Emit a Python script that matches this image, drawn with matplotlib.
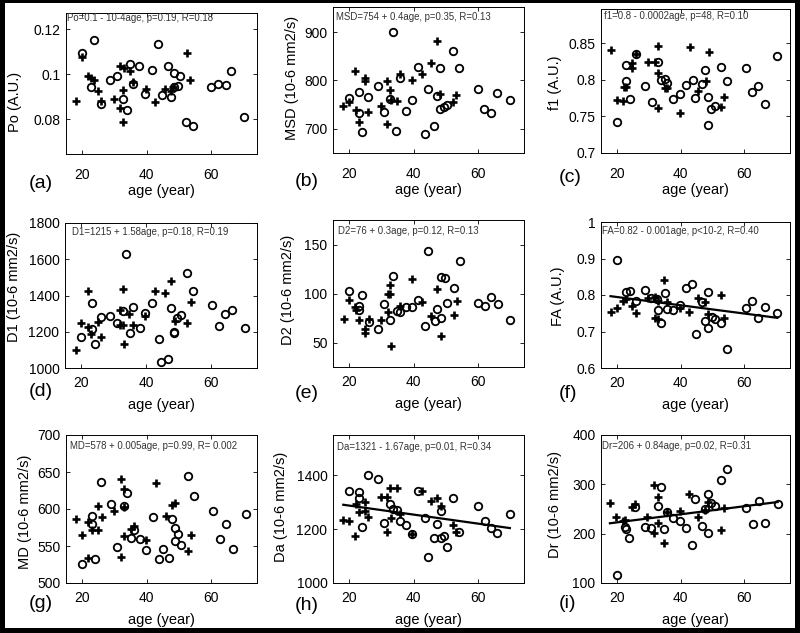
import numpy as np
import matplotlib
matplotlib.use('Agg')
import matplotlib.pyplot as plt
from matplotlib.patches import Rectangle
from matplotlib.ticker import FormatStrFormatter

plt.rcParams['font.family'] = ['Liberation Sans', 'DejaVu Sans']

# ---- data: circles (o) and crosses (+) ----
# (a) Po
po_c_age = [20, 23.75, 22.8, 25.8, 28.6, 30.8, 32.7, 33.75, 34.7, 35.7, 37.7, 39.6, 41.7, 43.6, 44.7,
            46.6, 47.6, 48.4, 48.5, 49.7, 50.5, 52.4, 54.4, 60.2, 62.4, 64.6, 66.25, 70.3]
po_c = [0.1093, 0.115, 0.0945, 0.0868, 0.0972, 0.0991, 0.0892, 0.0842, 0.1044, 0.0957, 0.1038, 0.091,
        0.1019, 0.1135, 0.0907, 0.1038, 0.0898, 0.1007, 0.0942, 0.0948, 0.0993, 0.0787, 0.0772, 0.0944,
        0.0957, 0.0953, 0.1016, 0.0812]
po_p_age = [17.9, 19.9, 21.8, 22.6, 23.6, 24.8, 25.8, 29.7, 31.8, 31.8, 32.8, 32.8, 32.9, 34.7, 35.8,
            39.7, 42.7, 45.6, 47.6, 48.2, 52.5, 53.6]
po_p = [0.0882, 0.1075, 0.0993, 0.0985, 0.0975, 0.0927, 0.0882, 0.0892, 0.1034, 0.0849, 0.093, 0.079,
        0.1027, 0.1016, 0.0967, 0.0933, 0.0877, 0.0936, 0.0927, 0.0942, 0.1093, 0.0975]

# (b) MSD
msd_c_age = [20, 22.9, 23, 24, 25.9, 28.8, 30.7, 32.7, 33.6, 34.6, 35.7, 37.6, 39.5, 41.5, 43.5, 44.4,
             46.5, 47.3, 48.3, 48.3, 49.6, 50.3, 52.3, 54.2, 60.2, 62, 64.1, 66, 70]
msd_c = [763, 777, 732, 694, 766, 788, 735, 761, 900, 696, 806, 737, 759, 828, 689, 782, 706, 768, 826,
         742, 746, 749, 862, 826, 783, 741, 733, 775, 759]
msd_p_age = [18.1, 19.9, 21.9, 22.1, 23, 25, 25, 25.9, 29.9, 31.8, 31.8, 32.7, 32.9, 34.7, 35.7, 39.5,
             42.6, 45.4, 47.3, 48.3, 52.3, 53.2]
msd_p = [748, 755, 819, 739, 714, 806, 798, 734, 747, 799, 711, 780, 759, 757, 813, 801, 813, 836, 882,
         772, 755, 770]

# (c) f1
f1_c_age = [20, 22.8, 22.9, 24, 25.8, 28.9, 30.8, 32.8, 33.75, 34.9, 35.8, 37.7, 39.9, 41.6, 43.75,
            44.6, 46.6, 47.6, 48.6, 48.6, 49.6, 50.7, 52.6, 54.6, 60.6, 62.4, 64.4, 66.6, 70.4]
f1_c = [0.743, 0.821, 0.7986, 0.7736, 0.8356, 0.7918, 0.7695, 0.8246, 0.7995, 0.8018, 0.796, 0.7736,
        0.781, 0.7927, 0.8, 0.7754, 0.7945, 0.8137, 0.7763, 0.7385, 0.7599, 0.7644, 0.8182, 0.799, 0.8164,
        0.7836, 0.7913, 0.7667, 0.8333]
f1_p_age = [17.9, 19.9, 21.9, 22.1, 22.9, 24.8, 24.8, 25.8, 29.7, 31.8, 32.9, 32.9, 32.9, 35.1, 35.7,
            39.8, 42.9, 45.5, 47.8, 48.85, 52.7, 53.6]
f1_p = [0.841, 0.7727, 0.7708, 0.79, 0.79, 0.8228, 0.816, 0.8356, 0.825, 0.825, 0.847, 0.81, 0.7613,
        0.7886, 0.7886, 0.7553, 0.8447, 0.7845, 0.798, 0.8383, 0.7626, 0.7772]

# (d) D1
d1_c_age = [20, 23.2, 23.2, 24.2, 26, 29, 30.9, 33, 33.8, 35, 35.9, 38, 39.8, 42, 43.9, 44.8, 46.8,
            47.8, 48.7, 48.8, 49.7, 50.7, 52.7, 54.6, 60.6, 62.6, 64.5, 66.6, 70.6]
d1_c = [1173, 1360, 1215, 1133, 1282, 1285, 1251, 1315, 1627, 1191, 1338, 1220, 1302, 1360, 1160, 1033,
        1047, 1329, 1200, 1193, 1278, 1295, 1522, 1427, 1345, 1229, 1296, 1318, 1218]
d1_p_age = [18.2, 20, 22.1, 22.1, 23.1, 25.1, 26, 31.9, 31.9, 33, 33, 33.2, 34.8, 35.9, 39.8, 42.8,
            45.9, 47.8, 48.9, 52.8, 53.9]
d1_p = [1102, 1249, 1424, 1224, 1187, 1256, 1169, 1320, 1240, 1438, 1240, 1133, 1296, 1240, 1285, 1424,
        1416, 1482, 1260, 1251, 1364]

# (e) D2
d2_c_age = [20, 22.9, 23.1, 23.9, 26, 28.9, 30.7, 32.8, 33.7, 34.8, 35.8, 37.7, 39.6, 41.5, 43.6, 44.5,
            46.6, 47.4, 48.5, 48.5, 49.7, 50.5, 52.5, 54.5, 60.2, 62.2, 64.2, 66.2, 70.1]
d2_c = [103.1, 87.7, 83.6, 99, 71, 63.8, 89.4, 73.4, 117.7, 81.9, 80.9, 86, 86, 93.9, 66.6, 144, 71.7,
        84.3, 117, 75, 116, 91, 105.8, 134, 90.4, 87.7, 96.6, 89.4, 72.7]
d2_p_age = [18.2, 20, 21.9, 22.2, 23, 24.9, 24.9, 26, 30, 31.9, 31.9, 32.8, 32.8, 32.9, 35.7, 39.6,
            42.7, 45.5, 47.4, 48.5, 52.5, 53.4]
d2_p = [74, 93.9, 86.3, 83.6, 73.4, 63.8, 59.7, 74, 73.4, 81.6, 100, 100, 108.5, 46.8, 87.7, 115, 91.1,
        76.8, 105, 56.3, 78.5, 92.8]

# (f) FA
fa_c_age = [20, 22.8, 23.9, 25.8, 28.9, 30.7, 32.5, 32.7, 33.75, 34.9, 35.8, 37.7, 39.8, 41.7, 43.6,
            44.7, 46.6, 47.6, 48.6, 48.6, 49.7, 50.7, 52.6, 54.6, 60.5, 62.5, 64.4, 66.5, 70.4]
fa_c = [0.897, 0.808, 0.811, 0.784, 0.815, 0.791, 0.79, 0.76, 0.7245, 0.806, 0.761, 0.759, 0.773, 0.818,
        0.831, 0.6945, 0.782, 0.729, 0.807, 0.709, 0.74, 0.734, 0.722, 0.652, 0.7636, 0.784, 0.738, 0.768,
        0.75]
fa_p_age = [17.9, 19.9, 21.9, 22.8, 24.8, 25.8, 29.7, 31.8, 31.8, 32.8, 32.8, 34.8, 35.8, 39.8, 42.6,
            45.5, 47.6, 48.6, 52.6, 53.6]
fa_p = [0.7545, 0.7636, 0.784, 0.788, 0.77, 0.752, 0.793, 0.795, 0.736, 0.7336, 0.784, 0.84, 0.782,
        0.765, 0.7545, 0.791, 0.781, 0.747, 0.8, 0.738]

# (g) MD
md_c_age = [19.9, 22.9, 23, 24, 25.9, 28.8, 30.9, 32.9, 34, 35, 35.95, 37.9, 39.9, 42, 43.9, 45, 46.9,
            47.8, 48.75, 48.9, 49.8, 50.7, 52.8, 54.7, 60.7, 62.8, 64.8, 66.8, 70.9]
md_c = [525.9, 590.5, 579.5, 532.7, 637, 606.4, 548.6, 604, 622, 561.4, 571.4, 560, 544, 588.6, 532.7,
        546.4, 534, 586, 575, 556.8, 566, 551, 645, 617.7, 597.7, 559, 579.5, 546.4, 593]
md_p_age = [18, 19.9, 21.9, 21.9, 22.9, 24.8, 24.8, 26, 30, 32, 32, 32.9, 32.9, 32.9, 35, 35.95, 39.9,
            42.9, 45.9, 47.9, 48.9, 52.8, 53.9]
md_p = [586.8, 565, 582, 533.6, 571.4, 604, 571.4, 589.5, 597.7, 640.5, 535, 626.8, 602.3, 563, 573.6,
        577.7, 557.7, 635, 591, 605.5, 607.7, 543, 564.5]

# (h) Da
da_c_age = [20, 22.9, 23, 24, 25.9, 28.8, 30.7, 32.7, 33.7, 34.7, 35.7, 37.6, 39.6, 41.5, 43.5, 44.4,
            46.5, 47.3, 48.4, 48.4, 49.6, 50.4, 52.4, 54.3, 60.2, 62.1, 64.1, 66.1, 70]
da_c = [1343, 1339, 1315, 1209, 1402, 1386, 1224, 1293, 1274, 1271, 1229, 1216, 1181, 1343, 1240, 1097,
        1169, 1219, 1268, 1166, 1175, 1134, 1316, 1190, 1287, 1231, 1204, 1186, 1256]
da_p_age = [18.1, 19.9, 21.9, 22.1, 22.9, 24.8, 24.9, 25.9, 29.9, 31.8, 31.8, 32.7, 32.9, 34.7, 35.7,
            39.5, 42.6, 45.4, 47.3, 48.4, 52.4, 53.3]
da_p = [1235, 1231, 1175, 1293, 1265, 1302, 1266, 1246, 1320, 1320, 1191, 1352, 1240, 1352, 1258, 1181,
        1343, 1306, 1316, 1287, 1216, 1188]

# (i) Dr
dr_c_age = [20, 22.6, 22.7, 23.7, 25.65, 28.7, 30.6, 32.7, 33.7, 34.8, 35.7, 37.7, 39.8, 41.6, 43.7,
            44.6, 46.6, 47.5, 48.6, 48.6, 49.6, 50.7, 52.6, 54.6, 60.6, 62.6, 64.5, 66.6, 70.5]
dr_c = [116.4, 213.7, 209, 191.8, 254.8, 213.7, 211, 256.8, 294.5, 209, 243, 231.5, 224.7, 211, 176.7,
        270.5, 215.8, 250, 280.8, 202, 261.6, 256.8, 309.6, 332, 252, 220.5, 267, 222.6, 260.3]
dr_p_age = [17.7, 19.7, 21.7, 22.6, 24.6, 25.65, 29.5, 31.6, 31.6, 32.7, 32.7, 34.8, 35.8, 39.8, 42.6,
            45.4, 47.5, 48.6, 52.6, 53.6]
dr_p = [261.6, 232.9, 226, 227.4, 254.8, 260, 234, 298, 202, 274, 222.6, 181.5, 243, 245, 280.8, 234,
        248, 263.7, 206.8, 252]

# regression lines (intercept, slope) as drawn
fit_fa = (0.817, -0.00113)
fit_da = (1321, -1.67)
fit_dr = (206.6, 0.816)

eq_texts = ['Po=0.1 - 10-4age, p=0.19, R=0.18',
            'MSD=754 + 0.4age, p=0.35, R=0.13',
            'f1=0.8 - 0.0002age, p=48, R=0.10',
            'D1=1215 + 1.58age, p=0.18, R=0.19',
            'D2=76 + 0.3age, p=0.12, R=0.13',
            'FA=0.82 - 0.001age, p<10-2, R=0.40',
            'MD=578 + 0.005age, p=0.99, R= 0.002',
            'Da=1321 - 1.67age, p=0.01, R=0.34',
            'Dr=206 + 0.84age, p=0.02, R=0.31']
ylabels = ['Po (A.U.)', 'MSD (10-6 mm2/s)', 'f1 (A.U.)',
           'D1 (10-6 mm2/s)', 'D2 (10-6 mm2/s)', 'FA (A.U.)',
           'MD (10-6 mm2/s)', 'Da (10-6 mm2/s)', 'Dr (10-6 mm2/s)']
letters = ['(a)', '(b)', '(c)', '(d)', '(e)', '(f)', '(g)', '(h)', '(i)']
yticks = [[0.08, 0.1, 0.12], [700, 800, 900], [0.7, 0.75, 0.8, 0.85],
          [1000, 1200, 1400, 1600, 1800], [50, 100, 150], [0.6, 0.7, 0.8, 0.9, 1],
          [500, 550, 600, 650, 700], [1000, 1200, 1400], [100, 200, 300, 400]]
ylims = [(0.0646, 0.1271), (650, 952), (0.7, 0.897), (1000, 1800), (25, 175.5),
         (0.6, 1.0), (500, 700), (1000, 1550), (100, 400)]

panels = [(po_c_age, po_c, po_p_age, po_p, None),
          (msd_c_age, msd_c, msd_p_age, msd_p, None),
          (f1_c_age, f1_c, f1_p_age, f1_p, None),
          (d1_c_age, d1_c, d1_p_age, d1_p, None),
          (d2_c_age, d2_c, d2_p_age, d2_p, None),
          (fa_c_age, fa_c, fa_p_age, fa_p, fit_fa),
          (md_c_age, md_c, md_p_age, md_p, None),
          (da_c_age, da_c, da_p_age, da_p, fit_da),
          (dr_c_age, dr_c, dr_p_age, dr_p, fit_dr)]

# ---- layout in pixels (left, top, right, bottom) ----
W, H = 800, 633
boxes = [(66, 13, 257, 154), (333, 7, 524, 153), (601, 9, 790, 153),
         (65, 223, 257, 368), (333, 220, 524, 367), (601, 222, 790, 368),
         (66, 435, 257, 583), (333, 435, 524, 583), (601, 435, 790, 583)]
eq_pos = [(67, 18), (336, 17), (604, 16), (72, 232), (338, 231), (602, 231),
          (70, 446), (337, 447), (602, 446)]
ylab_pos = [(15, 102), (292, 78), (555, 83), (14, 287), (288, 290), (558, 296),
            (25, 512), (281, 507), (555, 505)]
letter_pos = [(41, 183), (307, 182), (570, 178), (41, 392), (307, 393), (568, 393),
              (41, 603), (307, 605), (568, 603)]


def fx(px):
    return px / W


def fy(py):
    return 1 - py / H


fig = plt.figure(figsize=(8, 6.33), dpi=100, facecolor='black')
# white page inside the black frame
fig.patches.append(Rectangle((fx(5), fy(628)), 790 / W, (628 - 3) / H, transform=fig.transFigure,
                             facecolor='white', edgecolor='none', zorder=-10))

for k, (cx, cy, px_, py_, fit) in enumerate(panels):
    l, t, r, b = boxes[k]
    ax = fig.add_axes([fx(l), fy(b), (r - l) / W, (b - t) / H])
    ax.set_facecolor('white')
    ax.plot(cx, cy, 'o', ms=5.4, mfc='none', mec='black', mew=1.3)
    ax.plot(px_, py_, '+', ms=6, mec='black', mew=1.9)
    if fit is not None:
        ages = cx + px_
        xs = np.array([min(ages), max(ages)])
        ax.plot(xs, fit[0] + fit[1] * xs, color='black', lw=1.6)
    ax.set_xlim(14.9, 74.4)
    ax.set_ylim(*ylims[k])
    ax.set_xticks([20, 40, 60])
    ax.set_yticks(yticks[k])
    ax.yaxis.set_major_formatter(FormatStrFormatter('%g'))
    ax.tick_params(direction='in', top=True, right=True, length=3, width=0.6,
                   labelsize=10, colors='black')
    ax.tick_params(axis='x', pad=10 if k < 3 else 6)
    ax.tick_params(axis='y', pad=4)
    for s in ax.spines.values():
        s.set_linewidth(0.7)
    ax.set_xlabel('age (year)', fontsize=10.5, va='center')
    ax.xaxis.set_label_coords(0.5, -37 / (b - t))
    ax.set_ylabel(ylabels[k], fontsize=10.5, va='center')
    ax.yaxis.set_label_coords(fx(ylab_pos[k][0]), fy(ylab_pos[k][1]), transform=fig.transFigure)
    fig.text(fx(eq_pos[k][0]), fy(eq_pos[k][1]), eq_texts[k], fontsize=6.9, color='#333333',
             ha='left', va='center')
    fig.text(fx(letter_pos[k][0]), fy(letter_pos[k][1]), letters[k], fontsize=14,
             ha='center', va='center')

fig.savefig('out.png', dpi=100, facecolor='black')
